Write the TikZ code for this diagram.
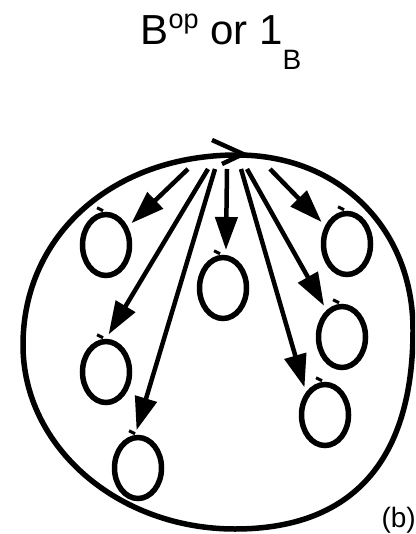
\documentclass[tikz,border=0pt]{standalone}
\usepackage{fontspec}
\setmainfont{Liberation Sans}
\usepackage{tikz}
\usetikzlibrary{arrows.meta,shapes.geometric,positioning,calc}
\tikzstyle{ringline}=[line width=5.5pt]
\tikzstyle{loopnode}=[ellipse, draw, line width=5.5pt, minimum width=47pt, minimum height=61pt, inner sep=0pt]
\tikzstyle{mapedge}=[-{Triangle[length=33pt,width=22pt]}, line width=4.5pt, shorten >=5pt]
\tikzstyle{tickline}=[line width=3pt]

\begin{document}
\begin{tikzpicture}[x=1pt, y=-1pt]
    \useasboundingbox (0,0) rectangle (415,534);

    % title
    \node[font=\fontsize{42}{42}\selectfont, anchor=base] (title) at (221,45)
      {B\raisebox{16pt}{\fontsize{27}{27}\selectfont op} or 1\raisebox{-25pt}{\fontsize{28}{28}\selectfont B}};

    % the big object
    \begin{scope}
      \clip (0,0) rectangle (415,534);
      \draw[ringline] (237,155) .. controls (339,155) and (413,228) .. (413,330)
        .. controls (413,461) and (352,529) .. (235,529)
        .. controls (118,529) and (23,447) .. (23,345)
        .. controls (23,235) and (113,155) .. cycle;
    \end{scope}
    \draw[line width=4.5pt, line join=miter] (212,140) -- (243,154) -- (222,164);

    % the small loops
    \node[loopnode] (l1) at (106,245) {};
    \node[loopnode] (l2) at (223,288) {};
    \node[loopnode] (l3) at (347,244) {};
    \node[loopnode] (l4) at (342,337) {};
    \node[loopnode] (l5) at (106,372) {};
    \node[loopnode] (l6) at (325,415) {};
    \node[loopnode] (l7) at (138,468) {};
    \foreach \l in {l1,l2,l3,l4,l5,l6,l7}
      \draw[tickline] ([xshift=-9pt,yshift=4pt]\l.north) -- ++(6pt,-3pt);

    % arrows out of the top point
    \coordinate (sA) at (188,169);
    \coordinate (sB) at (208,169);
    \coordinate (sC) at (215,169);
    \coordinate (sD) at (227,169);
    \coordinate (sE) at (241,169);
    \coordinate (sF) at (247,169);
    \coordinate (sG) at (270,169);
    \draw[mapedge] (sA) -- (l1.40);
    \draw[mapedge] (sB) -- (l5.90);
    \draw[mapedge] (sC) -- (l7.95);
    \draw[mapedge] (sD) -- (l2.85);
    \draw[mapedge] (sE) -- (l6.130);
    \draw[mapedge] (sF) -- (l4.120);
    \draw[mapedge] (sG) -- (l3.140);

    \node[font=\fontsize{28}{28}\selectfont, anchor=base west] (tag) at (378,527) {(b)};
\end{tikzpicture}
\end{document}
